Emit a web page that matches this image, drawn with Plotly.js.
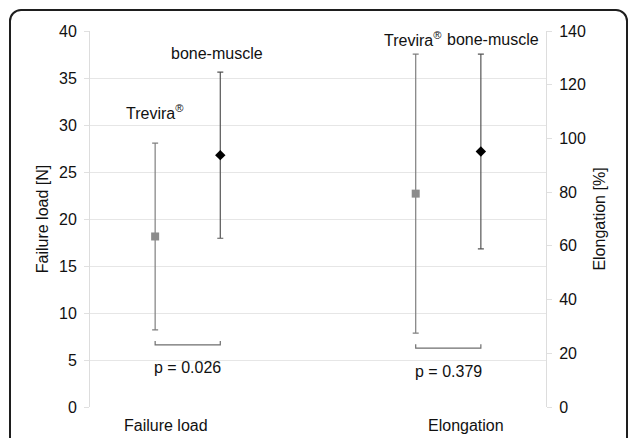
<!DOCTYPE html>
<html><head><meta charset="utf-8">
<script src="https://cdn.plot.ly/plotly-3.0.1.min.js"></script>
<style>
html,body{margin:0;padding:0;background:#fff;overflow:hidden;width:629px;height:438px;}
#frame{position:absolute;left:9px;top:9px;width:619px;height:520px;border:2px solid #1e1e1e;border-radius:12px;box-sizing:border-box;}
#chart{position:absolute;left:0;top:0;width:629px;height:438px;}
</style></head><body>
<div id="frame"></div><div id="chart"></div>
<script>
// ---- data ----
const categories = ["Failure load", "Elongation"];
const groups = ["Trevira<sup>®</sup>", "bone-muscle"];
const failureMean = [18.14, 26.79];
const failureErr = [9.94, 8.84];
const elongMean = [79.45, 95.15];
const elongErr = [51.95, 36.25];
const pValues = ["p = 0.026", "p = 0.379"];
const leftTicks = [0, 5, 10, 15, 20, 25, 30, 35, 40];
const rightTicks = [0, 20, 40, 60, 80, 100, 120, 140];
const leftTitle = "Failure load [N]";
const rightTitle = "Elongation [%]";

// ---- layout helpers ----
const FONT = "Liberation Sans, Arial, sans-serif";
const FS = 16;
const means = [failureMean, elongMean];
const errs = [failureErr, elongErr];
const yrefs = ["y", "y2"];
const yMax = [40, 140];
const plotH = 376;
const groupStyle = [
  {symbol: "square", color: "#8c8c8c", size: 8, err: "#7f7f7f"},
  {symbol: "diamond", color: "#000000", size: 8, err: "#555555"}
];
const pos = (c, g) => c * 4 + g + 1;

const traces = [];
categories.forEach((cat, c) => {
  groups.forEach((grp, g) => {
    traces.push({
      type: "scatter", mode: "markers",
      x: [pos(c, g)], y: [means[c][g]],
      yaxis: yrefs[c],
      name: grp + " " + cat,
      marker: {symbol: groupStyle[g].symbol, color: groupStyle[g].color, size: groupStyle[g].size},
      error_y: {type: "data", array: [errs[c][g]], visible: true,
        color: groupStyle[g].err, thickness: 1.2, width: 3},
      showlegend: false, hoverinfo: "skip"
    });
  });
});

const shapes = [];
const annotations = [];
const labelShift = [[{x: 0, y: 31}, {x: -3, y: 19}], [{x: -3, y: 15}, {x: 12, y: 15}]];
const catShift = [-21.5, 17.5];
categories.forEach((cat, c) => {
  const pxUnit = yMax[c] / plotH;
  const lower = Math.min(...means[c].map((m, i) => m - errs[c][i]));
  const base = lower - 15 * pxUnit;
  const ends = lower - 11 * pxUnit;
  const x0 = pos(c, 0), x1 = pos(c, 1);
  shapes.push({
    type: "path", xref: "x", yref: yrefs[c],
    path: `M ${x0} ${ends} L ${x0} ${base} L ${x1} ${base} L ${x1} ${ends}`,
    line: {color: "#6e6e6e", width: 1.2}
  });
  annotations.push({
    xref: "x", yref: yrefs[c], x: (x0 + x1) / 2, y: base,
    text: pValues[c], showarrow: false, yanchor: "middle", yshift: -23,
    font: {family: FONT, size: FS, color: "#111"}
  });
  annotations.push({
    xref: "x", yref: "paper", x: (x0 + x1) / 2, y: 0,
    text: cat, showarrow: false, yanchor: "middle", yshift: -18, xshift: catShift[c],
    font: {family: FONT, size: FS, color: "#111"}
  });
  groups.forEach((grp, g) => {
    annotations.push({
      xref: "x", yref: yrefs[c], x: pos(c, g), y: means[c][g] + errs[c][g],
      text: grp, showarrow: false, yanchor: "middle",
      xshift: labelShift[c][g].x, yshift: labelShift[c][g].y,
      font: {family: FONT, size: FS, color: "#111"}
    });
  });
});

const layout = {
  width: 629, height: 438,
  margin: {l: 90, r: 83, t: 31, b: 31},
  paper_bgcolor: "rgba(0,0,0,0)", plot_bgcolor: "rgba(0,0,0,0)",
  font: {family: FONT, size: FS, color: "#111"},
  showlegend: false,
  xaxis: {range: [0, 7], showgrid: false, zeroline: false, showline: false,
    showticklabels: false, ticks: "", fixedrange: true},
  yaxis: {range: [0, 40], tickvals: leftTicks, ticktext: leftTicks.map(String),
    showgrid: true, gridcolor: "#e6e6e6", gridwidth: 1, zeroline: false,
    showline: true, linecolor: "#dddddd", ticks: "outside", ticklen: 5, tickcolor: "#e0e0e0",
    ticklabelstandoff: 4,
    title: {text: leftTitle, standoff: 6, font: {family: FONT, size: FS, color: "#111"}},
    tickfont: {family: FONT, size: FS, color: "#111"}},
  yaxis2: {range: [0, 140], tickvals: rightTicks, ticktext: rightTicks.map(String),
    overlaying: "y", side: "right", showgrid: false, zeroline: false,
    showline: true, linecolor: "#dddddd", ticks: "outside", ticklen: 5, tickcolor: "#e0e0e0",
    ticklabelstandoff: 4,
    title: {text: rightTitle, standoff: 8, font: {family: FONT, size: FS, color: "#111"}},
    tickfont: {family: FONT, size: FS, color: "#111"}},
  shapes: shapes,
  annotations: annotations
};

Plotly.newPlot("chart", traces, layout, {staticPlot: true, displayModeBar: false});
</script>
</body></html>
